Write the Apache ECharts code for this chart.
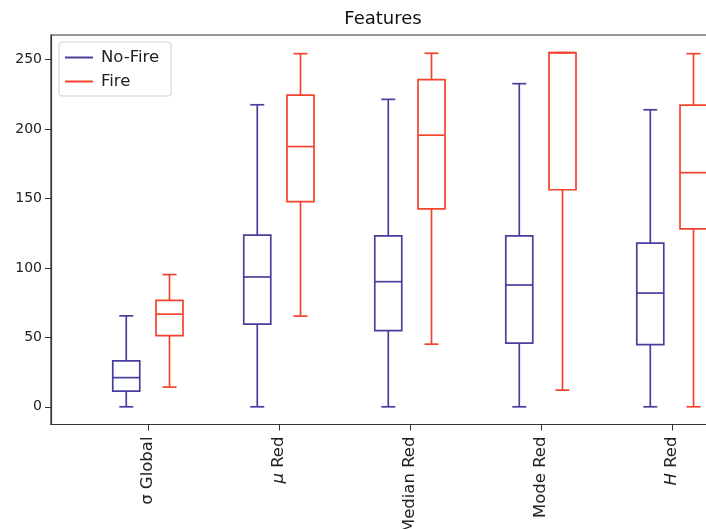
<!DOCTYPE html>
<html>
<head>
<meta charset="utf-8">
<script src="https://cdn.jsdelivr.net/npm/echarts@6/dist/echarts.min.js"></script>
<style>
  html, body { margin: 0; padding: 0; background: #fff; }
  #chart { width: 706px; height: 529px; }
</style>
</head>
<body>
<div id="chart"></div>
<script>
// Feature names on the x axis (rich-text markup for the italic symbols)
const categories = ['σ Global', '{i|μ} Red', 'Median Red', 'Mode Red', '{i|H} Red'];
const yTicks = [0, 50, 100, 150, 200, 250];

// Five-number summaries per feature: [lower whisker, Q1, median, Q3, upper whisker]
const noFireStats = [
  [0, 11.3, 21.0, 33.0, 65.5],
  [0, 59.5, 93.5, 123.6, 217.5],
  [0, 54.9, 90.1, 123.1, 221.4],
  [0, 45.8, 87.7, 123.1, 232.7],
  [0, 44.8, 81.9, 117.8, 213.9]
];
const fireStats = [
  [14.2, 51.3, 66.7, 76.6, 95.2],
  [65.3, 147.7, 187.4, 224.5, 254.3],
  [45.1, 142.6, 195.6, 235.6, 254.6],
  [12.0, 156.3, 255, 255, 255],
  [0, 128.2, 168.6, 217.3, 254.3]
];

const NOFIRE_COLOR = '#463f9c';
const FIRE_COLOR = '#f4432d';

function boxRenderer(offset, color) {
  return function (params, api) {
    const x = api.value(0) + offset;
    const lo = api.coord([x, api.value(1)]);
    const q1 = api.coord([x, api.value(2)]);
    const med = api.coord([x, api.value(3)]);
    const q3 = api.coord([x, api.value(4)]);
    const hi = api.coord([x, api.value(5)]);
    const cx = lo[0];
    const hb = 13.5, hc = 7;
    const style = { stroke: color, lineWidth: 1.7, fill: null };
    const line = (x1, y1, x2, y2) => ({ type: 'line', shape: { x1, y1, x2, y2 }, style });
    return {
      type: 'group',
      children: [
        { type: 'rect', shape: { x: cx - hb, y: q3[1], width: 2 * hb, height: q1[1] - q3[1] }, style },
        line(cx - hb, med[1], cx + hb, med[1]),
        line(cx, q1[1], cx, lo[1]),
        line(cx, q3[1], cx, hi[1]),
        line(cx - hc, lo[1], cx + hc, lo[1]),
        line(cx - hc, hi[1], cx + hc, hi[1])
      ]
    };
  };
}

const toData = stats => stats.map((s, i) => [i].concat(s));

const chart = echarts.init(document.getElementById('chart'), null, { renderer: 'canvas' });
const font = 'DejaVu Sans';

chart.setOption({
  animation: false,
  backgroundColor: '#fff',
  textStyle: { fontFamily: font },
  graphic: [{
    type: 'text', x: 383, y: 19,
    style: { text: 'Features', font: '18px "DejaVu Sans"', fill: '#111', textAlign: 'center', textVerticalAlign: 'middle' }
  }],
  legend: {
    orient: 'vertical', left: 59, top: 42,
    backgroundColor: '#fff',
    borderColor: '#d0d0d0', borderWidth: 1, borderRadius: 3,
    padding: [7, 12, 6, 6],
    itemWidth: 28, itemHeight: 2, itemGap: 7,
    icon: 'rect',
    textStyle: { fontFamily: font, fontSize: 16.5, color: '#222', padding: [0, 0, 0, 3] },
    data: [
      { name: 'No-Fire', itemStyle: { color: NOFIRE_COLOR } },
      { name: 'Fire', itemStyle: { color: FIRE_COLOR } }
    ]
  },
  grid: {
    left: 51, top: 35, width: 664, height: 389.5,
    show: true, borderColor: '#333', borderWidth: 1.2,
    containLabel: false, outerBoundsMode: 'none'
  },
  xAxis: {
    type: 'value', min: -0.7405, max: 4.328,
    splitLine: { show: false },
    axisLine: { show: true, onZero: false, lineStyle: { color: '#333', width: 1.2 } },
    axisTick: { show: true, customValues: [0, 1, 2, 3, 4], length: 6, lineStyle: { color: '#333' } },
    axisLabel: {
      customValues: [0, 1, 2, 3, 4],
      rotate: 90, margin: 12,
      fontFamily: font, fontSize: 16.5, color: '#222',
      formatter: v => categories[Math.round(v)],
      rich: { i: { fontStyle: 'italic', fontFamily: font, fontSize: 16.5, color: '#222' } }
    }
  },
  yAxis: {
    type: 'value', min: -12.75, max: 267.75,
    splitLine: { show: false },
    axisLine: { show: true, onZero: false, lineStyle: { color: '#333', width: 1.2 } },
    axisTick: { show: true, customValues: yTicks, length: 6, lineStyle: { color: '#333' } },
    axisLabel: { customValues: yTicks, margin: 9, fontFamily: font, fontSize: 14, color: '#222' }
  },
  series: [
    {
      name: 'No-Fire', type: 'custom',
      itemStyle: { color: NOFIRE_COLOR },
      renderItem: boxRenderer(-0.166, NOFIRE_COLOR),
      encode: { x: 0, y: [1, 2, 3, 4, 5] },
      data: toData(noFireStats)
    },
    {
      name: 'Fire', type: 'custom',
      itemStyle: { color: FIRE_COLOR },
      renderItem: boxRenderer(0.164, FIRE_COLOR),
      encode: { x: 0, y: [1, 2, 3, 4, 5] },
      data: toData(fireStats)
    }
  ]
});
</script>
</body>
</html>
